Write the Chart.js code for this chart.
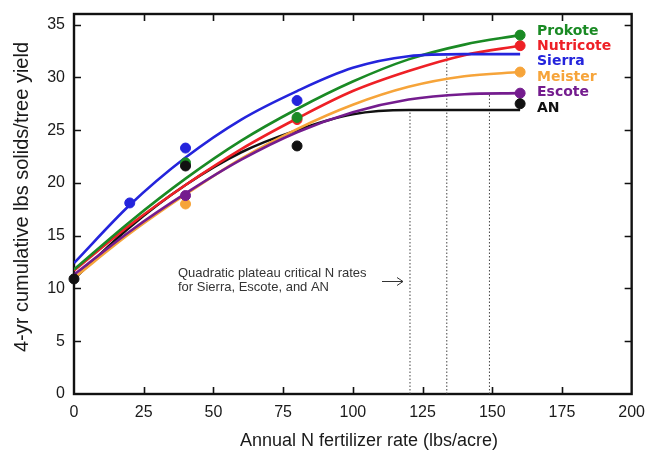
<!DOCTYPE html>
<html>
<head>
<meta charset="utf-8">
<script src="https://cdn.jsdelivr.net/npm/chart.js@4.4.0/dist/chart.umd.min.js"></script>
<style>
  html, body { margin: 0; padding: 0; background: #fff; }
  #wrap { width: 654px; height: 452px; }
</style>
</head>
<body>
<div id="wrap"><canvas id="yieldChart" width="654" height="452"></canvas></div>
<script>
const curveRates = [0, 20, 40, 60, 80, 100, 120, 140, 160];
const prokoteCurve   = [11.8, 16.3, 20.4, 24.0, 27.0, 29.6, 31.7, 33.1, 34.0];
const nutricoteCurve = [11.7, 16.0, 19.8, 23.2, 26.1, 28.7, 30.6, 32.1, 33.0];
const sierraCurve    = [12.4, 17.9, 22.4, 26.0, 28.7, 30.9, 32.0, 32.2, 32.2];
const meisterCurve   = [11.0, 15.2, 18.9, 22.3, 25.1, 27.4, 29.1, 30.1, 30.5];
const escoteCurve    = [11.3, 15.4, 19.0, 22.2, 24.8, 26.7, 27.9, 28.4, 28.5];
const anCurve        = [10.9, 15.8, 19.8, 22.9, 25.0, 26.5, 26.9, 26.9, 26.9];

// measured means (only the visible ones)
const prokoteRates = [40, 80, 160];       const prokoteYield = [21.9, 26.2, 34.0];
const nutricoteRates = [80, 160];         const nutricoteYield = [26.0, 33.0];
const sierraRates = [20, 40, 80];         const sierraYield = [18.1, 23.3, 27.8];
const meisterRates = [40, 160];           const meisterYield = [18.0, 30.5];
const escoteRates = [40, 160];            const escoteYield = [18.8, 28.5];
const anRates = [0, 40, 80, 160];         const anYield = [10.9, 21.6, 23.5, 27.5];

// quadratic plateau critical N rates (AN, Sierra, Escote)
const criticalRates = [120.5, 133.7, 149];
const criticalYields = [26.9, 32.2, 28.5];

const xTicks = [0, 25, 50, 75, 100, 125, 150, 175, 200];
const yTicks = [0, 5, 10, 15, 20, 25, 30, 35];

const varieties = ["Prokote", "Nutricote", "Sierra", "Meister", "Escote", "AN"];
const colors = ["#1a8a24", "#ee2026", "#2424dc", "#f6a43a", "#741c8e", "#111111"];

const toXY = (xs, ys) => xs.map((x, i) => ({ x: x, y: ys[i] }));

const curves = [prokoteCurve, nutricoteCurve, sierraCurve, meisterCurve, escoteCurve, anCurve];
const ptsX = [prokoteRates, nutricoteRates, sierraRates, meisterRates, escoteRates, anRates];
const ptsY = [prokoteYield, nutricoteYield, sierraYield, meisterYield, escoteYield, anYield];
const lineOrder = [12, 13, 11, 15, 14, 16];
const pointOrder = [5, 6, 1, 4, 3, 2];

const datasets = [];
// dotted critical rate lines
criticalRates.forEach((r, i) => {
    datasets.push({
        type: "line",
        data: [{ x: r, y: 0 }, { x: r, y: criticalYields[i] }],
        borderColor: "#444",
        borderWidth: 1,
        borderDash: [1.5, 2],
        pointRadius: 0,
        order: 30
    });
});
varieties.forEach((v, i) => {
    datasets.push({
        type: "line",
        label: v,
        data: toXY(curveRates, curves[i]),
        borderColor: colors[i],
        borderWidth: 2.6,
        pointRadius: 0,
        cubicInterpolationMode: "monotone",
        fill: false,
        order: lineOrder[i]
    });
    datasets.push({
        type: "scatter",
        label: v + " mean",
        data: toXY(ptsX[i], ptsY[i]),
        backgroundColor: colors[i],
        borderColor: colors[i],
        pointRadius: 5,
        clip: false,
        order: pointOrder[i]
    });
});

// frame, inward ticks, labels next to curve ends and the note
const decorPlugin = {
    id: "decor",
    beforeDatasetsDraw(chart) {
        const { ctx, chartArea: a, scales: { x, y } } = chart;
        ctx.save();
        ctx.strokeStyle = "#111";
        ctx.lineWidth = 2.4;
        ctx.strokeRect(a.left, a.top, a.right - a.left, a.bottom - a.top);
        ctx.lineWidth = 1.6;
        ctx.beginPath();
        xTicks.slice(1, -1).forEach(t => {
            const px = Math.round(x.getPixelForValue(t)) + 0.5;
            ctx.moveTo(px, a.bottom); ctx.lineTo(px, a.bottom - 7);
            ctx.moveTo(px, a.top); ctx.lineTo(px, a.top + 7);
        });
        yTicks.slice(1).forEach(t => {
            const py = Math.round(y.getPixelForValue(t)) + 0.5;
            ctx.moveTo(a.left, py); ctx.lineTo(a.left + 7, py);
            ctx.moveTo(a.right, py); ctx.lineTo(a.right - 7, py);
        });
        ctx.stroke();
        ctx.restore();
    },
    afterDraw(chart) {
        const { ctx } = chart;
        ctx.save();
        // curve labels
        ctx.font = "bold 14px 'DejaVu Sans'";
        ctx.textAlign = "left";
        ctx.textBaseline = "middle";
        varieties.forEach((v, i) => {
            ctx.fillStyle = colors[i];
            ctx.fillText(v, 537, 31 + i * 15.4);
        });
        // note
        ctx.fillStyle = "#333";
        ctx.font = "13px 'Liberation Sans'";
        ctx.fillText("Quadratic plateau critical N rates", 178, 273);
        ctx.fillText("for Sierra, Escote, and AN", 178, 287);
        ctx.strokeStyle = "#333";
        ctx.lineWidth = 1;
        ctx.beginPath();
        ctx.moveTo(382, 281.5); ctx.lineTo(403, 281.5);
        ctx.moveTo(397, 277.5); ctx.lineTo(403, 281.5); ctx.lineTo(397, 285.5);
        ctx.stroke();
        // axis titles
        ctx.fillStyle = "#1a1a1a";
        ctx.font = "18px 'Liberation Sans'";
        ctx.textAlign = "center";
        ctx.fillText("Annual N fertilizer rate (lbs/acre)", 369, 441);
        ctx.font = "20px 'Liberation Sans'";
        ctx.translate(22, 197);
        ctx.rotate(-Math.PI / 2);
        ctx.fillText("4-yr cumulative lbs solids/tree yield", 0, 0);
        ctx.restore();
    }
};

const ctx = document.getElementById("yieldChart").getContext("2d");
new Chart(ctx, {
    data: { datasets: datasets },
    options: {
        responsive: false,
        animation: false,
        layout: { padding: { left: 0, top: 14, right: 16, bottom: 0 } },
        plugins: { legend: { display: false }, tooltip: { enabled: false } },
        scales: {
            x: {
                type: "linear",
                min: 0,
                max: 200,
                afterBuildTicks: s => { s.ticks = xTicks.map(v => ({ value: v })); },
                afterFit: s => { s.height = 58; },
                grid: { display: false, drawTicks: false },
                border: { display: false },
                ticks: { padding: 9, color: "#1a1a1a", font: { family: "Liberation Sans", size: 16 } }
            },
            y: {
                type: "linear",
                min: 0,
                max: 36,
                afterBuildTicks: s => { s.ticks = yTicks.map(v => ({ value: v })); },
                afterFit: s => { s.width = 74; s.paddingTop = 0; s.paddingBottom = 0; },
                grid: { display: false, drawTicks: false },
                border: { display: false },
                ticks: { padding: 9, color: "#1a1a1a", font: { family: "Liberation Sans", size: 16 } }
            }
        }
    },
    plugins: [decorPlugin]
});
</script>
</body>
</html>
